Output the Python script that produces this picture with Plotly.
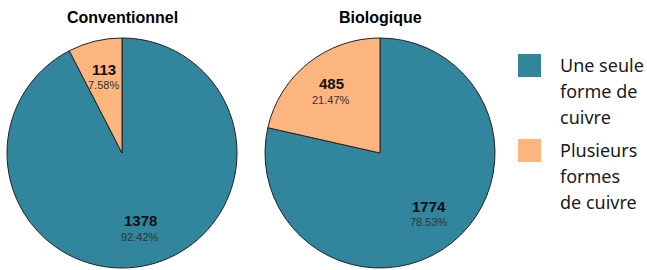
import math
import plotly.graph_objects as go

categories = ["Une seule forme de cuivre", "Plusieurs formes de cuivre"]
legend_order = ["Une seule forme de cuivre", "Plusieurs formes de cuivre"]
legend_lines = [["Une seule", "forme de", "cuivre"], ["Plusieurs", "formes", "de cuivre"]]
conventionnel = [1378, 113]
biologique = [1774, 485]
titles = ["Conventionnel", "Biologique"]
colors = {"Une seule forme de cuivre": "#31859C", "Plusieurs formes de cuivre": "#FDB57F"}

W, H = 647, 270
fig = go.Figure()

centers = [(122, 153), (380, 153)]
R = 115

for vals, (cx, cy), title in zip([conventionnel, biologique], centers, titles):
    dom = dict(x=[(cx - R) / W, (cx + R) / W], y=[1 - (cy + R) / H, 1 - (cy - R) / H])
    fig.add_trace(go.Pie(
        labels=categories,
        values=vals,
        domain=dom,
        sort=False,
        direction="clockwise",
        rotation=0,
        marker=dict(colors=[colors[c] for c in categories], line=dict(color="#222222", width=1)),
        textinfo="none",
        hoverinfo="label+value+percent",
        showlegend=False,
    ))
    # slice labels at 0.68 R along each slice's mid angle (clockwise from 12 o'clock)
    total = sum(vals)
    start = 90.0
    for v in vals:
        frac = v / total
        mid = start - frac * 360 / 2
        start -= frac * 360
        rr = 0.68 * R
        lx = cx + rr * math.cos(math.radians(mid))
        ly = cy - rr * math.sin(math.radians(mid))
        fig.add_annotation(
            x=lx / W, y=1 - (ly - 8) / H, xref="paper", yref="paper",
            text="<b>%d</b>" % v, showarrow=False, xanchor="center", yanchor="middle",
            font=dict(family="Liberation Sans", size=15, color="#111111"),
        )
        fig.add_annotation(
            x=lx / W, y=1 - (ly + 8) / H, xref="paper", yref="paper",
            text="%.2f%%" % (frac * 100), showarrow=False, xanchor="center", yanchor="middle",
            font=dict(family="Liberation Sans", size=11, color="#333333"),
        )
    fig.add_annotation(
        x=cx / W, y=1 - 17 / H, xref="paper", yref="paper",
        text="<b>" + title + "</b>", showarrow=False,
        font=dict(family="Liberation Sans", size=16, color="#000000"),
        xanchor="center", yanchor="middle",
    )

# custom legend
legend_tops = [54, 139]
for cat, lines, top in zip(legend_order, legend_lines, legend_tops):
    fig.add_shape(type="rect", xref="paper", yref="paper",
                  x0=518 / W, x1=541 / W, y0=1 - (top + 23) / H, y1=1 - top / H,
                  fillcolor=colors[cat], line=dict(width=0))
    for i, ln in enumerate(lines):
        fig.add_annotation(
            x=558 / W, y=1 - (top + 11 + 26 * i) / H, xref="paper", yref="paper",
            text=ln, showarrow=False, align="left",
            xanchor="left", yanchor="middle",
            font=dict(family="Noto Sans", size=18, color="#1a1a1a"),
        )

fig.update_layout(
    width=W, height=H,
    margin=dict(l=0, r=0, t=0, b=0),
    paper_bgcolor="white", plot_bgcolor="white",
)

fig.write_html("out.html", config={"displayModeBar": False},
               post_script="document.body.style.margin='0';")
